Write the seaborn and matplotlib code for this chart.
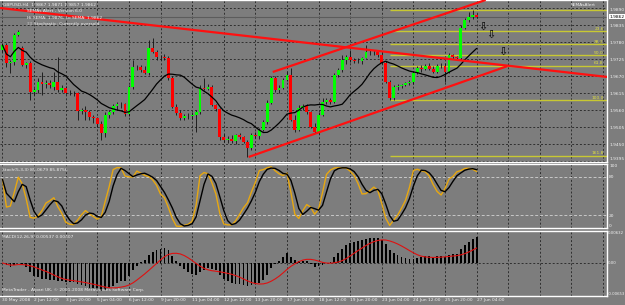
import numpy as np
import pandas as pd
import seaborn as sns
import matplotlib.pyplot as plt
import matplotlib.transforms as mtransforms

# GBPUSD H4 candles
opens = [1.9754, 1.9770, 1.9712, 1.9715, 1.9803, 1.9761, 1.9706, 1.9712, 1.9618, 1.9625,
         1.9651, 1.9644, 1.9648, 1.9635, 1.9651, 1.9625, 1.9631, 1.9615, 1.9614, 1.9616,
         1.9557, 1.9560, 1.9554, 1.9537, 1.9535, 1.9515, 1.9486, 1.9545, 1.9554, 1.9573,
         1.9579, 1.9578, 1.9547, 1.9635, 1.9699, 1.9700, 1.9689, 1.9680, 1.9761, 1.9748,
         1.9731, 1.9730, 1.9728, 1.9664, 1.9570, 1.9550, 1.9535, 1.9541, 1.9540, 1.9545,
         1.9554, 1.9631, 1.9627, 1.9635, 1.9576, 1.9563, 1.9473, 1.9463, 1.9466, 1.9460,
         1.9480, 1.9473, 1.9457, 1.9437, 1.9480, 1.9476, 1.9495, 1.9522, 1.9583, 1.9664,
         1.9625, 1.9631, 1.9657, 1.9673, 1.9528, 1.9495, 1.9567, 1.9573, 1.9554, 1.9505,
         1.9489, 1.9545, 1.9586, 1.9592, 1.9586, 1.9673, 1.9689, 1.9722, 1.9731, 1.9722,
         1.9719, 1.9720, 1.9728, 1.9748, 1.9749, 1.9747, 1.9738, 1.9712, 1.9651, 1.9599,
         1.9635, 1.9638, 1.9641, 1.9648, 1.9650, 1.9680, 1.9696, 1.9694, 1.9702, 1.9693,
         1.9683, 1.9702, 1.9703, 1.9683, 1.9738, 1.9731, 1.9729, 1.9825, 1.9851, 1.9860,
         1.9867]
highs = [1.9777, 1.9777, 1.9722, 1.9809, 1.9819, 1.9767, 1.9715, 1.9719, 1.9631, 1.9664,
         1.9683, 1.9657, 1.9657, 1.9683, 1.9731, 1.9641, 1.9638, 1.9625, 1.9622, 1.9618,
         1.9567, 1.9573, 1.9560, 1.9545, 1.9537, 1.9525, 1.9554, 1.9560, 1.9579, 1.9586,
         1.9586, 1.9583, 1.9641, 1.9722, 1.9706, 1.9706, 1.9702, 1.9787, 1.9793, 1.9754,
         1.9738, 1.9741, 1.9735, 1.9670, 1.9579, 1.9560, 1.9547, 1.9550, 1.9554, 1.9560,
         1.9641, 1.9664, 1.9644, 1.9641, 1.9579, 1.9567, 1.9482, 1.9476, 1.9480, 1.9482,
         1.9486, 1.9476, 1.9463, 1.9486, 1.9489, 1.9502, 1.9528, 1.9592, 1.9670, 1.9670,
         1.9641, 1.9664, 1.9683, 1.9696, 1.9545, 1.9576, 1.9579, 1.9579, 1.9557, 1.9518,
         1.9554, 1.9599, 1.9599, 1.9599, 1.9680, 1.9696, 1.9738, 1.9738, 1.9754, 1.9728,
         1.9728, 1.9731, 1.9770, 1.9754, 1.9754, 1.9754, 1.9748, 1.9719, 1.9657, 1.9641,
         1.9644, 1.9644, 1.9651, 1.9657, 1.9683, 1.9702, 1.9706, 1.9709, 1.9712, 1.9702,
         1.9709, 1.9712, 1.9712, 1.9744, 1.9741, 1.9735, 1.9835, 1.9858, 1.9877, 1.9884,
         1.9871]
lows = [1.9748, 1.9699, 1.9680, 1.9706, 1.9799, 1.9702, 1.9696, 1.9592, 1.9609, 1.9615,
        1.9609, 1.9631, 1.9631, 1.9625, 1.9618, 1.9618, 1.9612, 1.9609, 1.9605, 1.9528,
        1.9547, 1.9528, 1.9528, 1.9518, 1.9505, 1.9463, 1.9473, 1.9535, 1.9547, 1.9560,
        1.9567, 1.9541, 1.9541, 1.9628, 1.9689, 1.9683, 1.9677, 1.9673, 1.9744, 1.9722,
        1.9722, 1.9722, 1.9657, 1.9567, 1.9545, 1.9528, 1.9528, 1.9531, 1.9531, 1.9489,
        1.9547, 1.9625, 1.9625, 1.9573, 1.9557, 1.9463, 1.9457, 1.9454, 1.9454, 1.9450,
        1.9466, 1.9454, 1.9408, 1.9431, 1.9470, 1.9466, 1.9492, 1.9515, 1.9579, 1.9618,
        1.9615, 1.9628, 1.9654, 1.9525, 1.9489, 1.9492, 1.9560, 1.9547, 1.9502, 1.9486,
        1.9482, 1.9541, 1.9579, 1.9579, 1.9583, 1.9667, 1.9683, 1.9709, 1.9715, 1.9712,
        1.9712, 1.9709, 1.9728, 1.9738, 1.9738, 1.9731, 1.9709, 1.9648, 1.9592, 1.9592,
        1.9625, 1.9631, 1.9638, 1.9641, 1.9644, 1.9677, 1.9683, 1.9689, 1.9689, 1.9680,
        1.9680, 1.9696, 1.9651, 1.9680, 1.9725, 1.9722, 1.9722, 1.9822, 1.9845, 1.9855,
        1.9857]
closes = [1.9770, 1.9712, 1.9715, 1.9803, 1.9812, 1.9706, 1.9712, 1.9618, 1.9625, 1.9651,
          1.9644, 1.9648, 1.9641, 1.9651, 1.9625, 1.9631, 1.9615, 1.9614, 1.9616, 1.9557,
          1.9560, 1.9554, 1.9537, 1.9535, 1.9515, 1.9486, 1.9545, 1.9554, 1.9573, 1.9579,
          1.9578, 1.9547, 1.9635, 1.9699, 1.9700, 1.9689, 1.9680, 1.9761, 1.9748, 1.9731,
          1.9730, 1.9728, 1.9664, 1.9570, 1.9550, 1.9535, 1.9541, 1.9540, 1.9545, 1.9554,
          1.9631, 1.9627, 1.9635, 1.9576, 1.9563, 1.9473, 1.9463, 1.9466, 1.9460, 1.9480,
          1.9473, 1.9457, 1.9437, 1.9480, 1.9476, 1.9495, 1.9522, 1.9583, 1.9664, 1.9625,
          1.9631, 1.9657, 1.9673, 1.9528, 1.9495, 1.9567, 1.9573, 1.9554, 1.9505, 1.9489,
          1.9545, 1.9586, 1.9592, 1.9586, 1.9673, 1.9689, 1.9722, 1.9731, 1.9722, 1.9719,
          1.9720, 1.9728, 1.9748, 1.9749, 1.9747, 1.9738, 1.9712, 1.9651, 1.9599, 1.9635,
          1.9638, 1.9641, 1.9648, 1.9650, 1.9680, 1.9696, 1.9694, 1.9702, 1.9693, 1.9683,
          1.9702, 1.9703, 1.9683, 1.9738, 1.9731, 1.9729, 1.9825, 1.9851, 1.9860, 1.9867,
          1.9862]

time_labels = ['30 May 2008', '2 Jun 12:00', '3 Jun 20:00', '5 Jun 04:00', '6 Jun 12:00',
               '9 Jun 20:00', '11 Jun 04:00', '12 Jun 12:00', '13 Jun 20:00', '17 Jun 04:00',
               '18 Jun 12:00', '19 Jun 20:00', '23 Jun 04:00', '24 Jun 12:00', '25 Jun 20:00',
               '27 Jun 04:00']
price_ticks = [1.9890, 1.9835, 1.9780, 1.9725, 1.9670, 1.9615, 1.9560, 1.9505, 1.9450, 1.9395]
fib_levels = [0.0, 23.6, 38.2, 50.0, 61.8, 100.0, 161.8]
fib_start = 98

# hand drawn objects: trend lines (bar, price) and the down arrows
trend_bars = [[-0.6, 153.0], [68.4, 122.3], [62.3, 127.8]]
trend_prices = [[1.9890, 1.9667], [1.9683, 1.9916], [1.9408, 1.9702]]
arrow_bars = [121.5, 123.5, 126.6]
arrow_prices = [1.9829, 1.9803, 1.9748]

macd_limits = [-0.00653, 0.00632]

bg = '#7d7d7d'
grid_c = '#2f2f2f'
txt_c = '#f0f0f0'
fs = 3.2

df = pd.DataFrame({'open': opens, 'high': highs, 'low': lows, 'close': closes})
df['bar'] = np.arange(len(df))
df['sma'] = df['close'].rolling(14, min_periods=1).mean()

# stochastic 5,3,3
ll = df['low'].rolling(5, min_periods=1).min()
hh = df['high'].rolling(5, min_periods=1).max()
num = (df['close'] - ll).rolling(3, min_periods=1).sum()
den = (hh - ll).rolling(3, min_periods=1).sum()
df['k'] = 100 * num / den
df['d'] = df['k'].rolling(3, min_periods=1).mean()

# macd 12,26,9
ema12 = df['close'].ewm(span=12, adjust=False).mean()
ema26 = df['close'].ewm(span=26, adjust=False).mean()
df['macd'] = ema12 - ema26
df['signal'] = df['macd'].rolling(9, min_periods=1).mean()

sns.set_theme(style='dark')
plt.rcParams['font.family'] = ['DejaVu Sans']

fig = plt.figure(figsize=(6.25, 3.05), dpi=100, facecolor=bg)
ax = fig.add_axes([0.0, 143 / 305, 607 / 625, 162 / 305])
ax_st = fig.add_axes([0.0, 77 / 305, 607 / 625, 64 / 305])
ax_m = fig.add_axes([0.0, 9 / 305, 607 / 625, 65 / 305])

xlim = (-0.63, 153.0)
vticks = np.arange(0, 154, 8)
for a in (ax, ax_st, ax_m):
    a.set_facecolor(bg)
    a.set_xlim(*xlim)
    a.set_xticks(vticks)
    a.grid(False)
    for x in vticks:
        a.axvline(x, color=grid_c, lw=0.7, ls=(0, (2, 2)), zorder=0)
    for s in ('top', 'right', 'bottom'):
        a.spines[s].set_color('white')
        a.spines[s].set_linewidth(1.0)
    a.spines['left'].set_visible(False)
    a.yaxis.tick_right()
    a.tick_params(axis='y', colors=txt_c, labelsize=fs, length=0, pad=1.5)
    a.tick_params(axis='x', length=0)


def edge_labels(a):
    # keep the first/last right-hand labels inside their own panel
    labs = a.get_yticklabels()
    labs[0].set_va('bottom')
    labs[-1].set_va('top')


# ---- price panel
ax.set_ylim(1.93918, 1.99159)
ax.set_yticks(price_ticks[::-1])
ax.set_yticklabels(['%.4f' % p for p in price_ticks[::-1]])
edge_labels(ax)
ax.set_xticklabels([])
for p in price_ticks:
    ax.axhline(p, color=grid_c, lw=0.7, ls=(0, (2, 2)), zorder=0)

# fibonacci from the swing low to the last high
f_low = min(lows[fib_start:])
f_high = max(highs[fib_start:])
for lv in fib_levels:
    p = f_high - lv / 100 * (f_high - f_low)
    ax.hlines(p, fib_start, xlim[1], color='#c8c832', lw=1.0, zorder=1)
    if lv > 0:
        ax.text(152.2, p + 0.00015, '%.1f' % lv, color='#e0e040', fontsize=fs,
                ha='right', va='bottom', zorder=5)

ax.axhline(closes[-1], color='#5c5c5c', lw=0.8, zorder=1)

up = df['close'] >= df['open']
ax.vlines(df['bar'], df['low'], df['high'], color='#111111', lw=0.6, zorder=2)
body = (df['close'] - df['open']).where((df['close'] - df['open']).abs() > 0.00004, 0.00004)
ax.bar(df['bar'][up], body[up], bottom=df['open'][up], width=0.72, color='#00ff00',
       linewidth=0, zorder=3)
ax.bar(df['bar'][~up], body[~up], bottom=df['open'][~up], width=0.72, color='#ff0000',
       linewidth=0, zorder=3)

sns.lineplot(data=df, x='bar', y='sma', color='black', lw=0.9, ax=ax, zorder=4)

for tb, tp in zip(trend_bars, trend_prices):
    ax.plot(tb, tp, color='#ff1010', lw=1.6, zorder=4, solid_capstyle='butt')

for b, p in zip(arrow_bars, arrow_prices):
    ax.text(b, p, '\u21e9', color='black', fontsize=8, ha='center', va='center', zorder=6)

ax.text(1.004, closes[-1], '%.4f' % closes[-1], transform=mtransforms.blended_transform_factory(
    ax.transAxes, ax.transData), fontsize=fs, color='black', va='center', ha='left',
    bbox=dict(boxstyle='square,pad=0.12', fc='white', ec='none'), zorder=7, clip_on=False)
ax.set_xlabel('')
ax.set_ylabel('')

fig.text(3 / 625, 1 - 5 / 305, 'GBPUSD,H4  1.9867 1.9871 1.9857 1.9862', color=txt_c,
         fontsize=fs, va='center')
fig.text(27 / 625, 1 - 11.5 / 305, 'SEMAs Alert - Version 6.0', color=txt_c, fontsize=fs,
         va='center')
fig.text(27 / 625, 1 - 18 / 305, 'Hi SEMA: 1.9876, Lo SEMA: 1.9862', color=txt_c, fontsize=fs,
         va='center')
fig.text(27 / 625, 1 - 24.5 / 305, 'ΞΞ Stochastic: Currently oversold', color=txt_c,
         fontsize=fs, va='center')
fig.text(571 / 625, 1 - 5 / 305, 'SEMAsAlert', color=txt_c, fontsize=fs, va='center')

# ---- stochastic panel
ax_st.set_ylim(0, 100)
ax_st.set_yticks([0, 20, 80, 100])
ax_st.set_yticklabels(['0', '20', '80', '100'])
edge_labels(ax_st)
ax_st.set_xticklabels([])
for lv in (20, 80):
    ax_st.axhline(lv, color='#c8c8c8', lw=0.7, ls=(0, (3, 2)), zorder=1)
sns.lineplot(data=df, x='bar', y='k', color='#e8a810', lw=1.0, ax=ax_st, zorder=3)
sns.lineplot(data=df, x='bar', y='d', color='black', lw=1.0, ax=ax_st, zorder=4)
ax_st.text(0.004, 0.9, 'Stoch(5,3,3) 85.0679 85.8756', transform=ax_st.transAxes, color=txt_c,
           fontsize=fs, va='center')
ax_st.set_xlabel('')
ax_st.set_ylabel('')

# ---- macd panel
ax_m.set_ylim(*macd_limits)
ax_m.set_yticks([macd_limits[0], 0.0, macd_limits[1]])
ax_m.set_yticklabels(['%.5f' % macd_limits[0], '0.00', '%.5f' % macd_limits[1]])
ax_m.tick_params(axis='y', labelsize=2.8, pad=0.8)
edge_labels(ax_m)
ax_m.axhline(0, color=grid_c, lw=0.7, ls=(0, (2, 2)), zorder=0)
ax_m.bar(df['bar'], df['macd'], width=0.45, color='black', linewidth=0, zorder=3)
sns.lineplot(data=df, x='bar', y='signal', color='#e01010', lw=0.8, ax=ax_m, zorder=4)
ax_m.set_xticklabels(time_labels + [''] * (len(vticks) - len(time_labels)), ha='left',
                     fontsize=fs, color=txt_c)
ax_m.tick_params(axis='x', pad=1.5)
ax_m.text(0.004, 0.9, 'MACD(12,26,9) 0.00537 0.00407', transform=ax_m.transAxes, color=txt_c,
          fontsize=fs, va='center')
ax_m.text(0.004, 0.1, 'MetaTrader - Alpari UK, \u00a9 2001-2008 MetaQuotes Software Corp.',
          transform=ax_m.transAxes, color=txt_c, fontsize=fs, va='center')
ax_m.set_xlabel('')
ax_m.set_ylabel('')

fig.savefig('out.png', dpi=100, facecolor=bg)
